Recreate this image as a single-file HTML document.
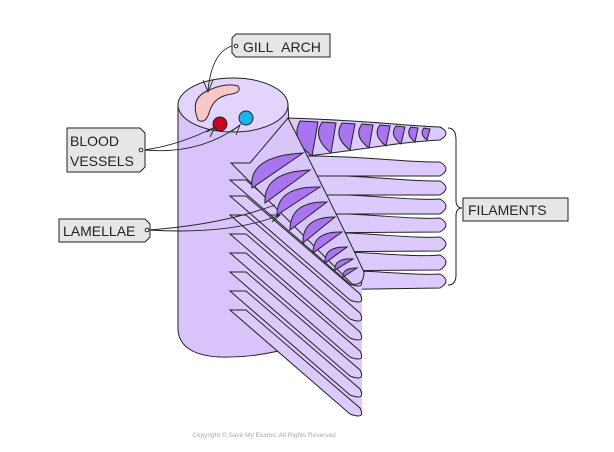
<!DOCTYPE html>
<html><head><style>
body{margin:0;background:#fff;}
.lbl{font-family:"Liberation Sans",sans-serif;font-size:14px;fill:#222;}
</style></head><body>
<svg width="614" height="447" viewBox="0 0 614 447" xmlns="http://www.w3.org/2000/svg">
<g stroke="#222" stroke-width="1" fill="#dcc8fb">
<path d="M178,105 L178,330 Q180,355 220,357 Q260,358 300,345 L288,105 Z" fill="#d8c4fb"/>
<g fill="#dccafc">
<path d="M288,270 C360,268 410,276 440,274 Q452,281 440,288 L300,290 Z"/>
<path d="M288,251 C360,250 410,258 440,255 Q452,262 440,270 L300,271 Z"/>
<path d="M288,232 C360,231 410,239 440,237 Q452,244 440,251 L300,252 Z"/>
<path d="M288,213 C360,212 410,220 440,218 Q452,225 440,232 L300,233 Z"/>
<path d="M288,194 C360,193 410,201 440,199 Q452,206 440,214 L300,214 Z"/>
<path d="M288,175 C360,174 410,182 440,181 Q452,188 440,195 L300,195 Z"/>
<path d="M288,156 C360,155 410,163 440,162 Q452,169 440,176 L300,176 Z"/>
<path d="M288,118 C360,120 410,126 440,127 Q452,133 440,140 C400,142 360,150 300,157 Z"/>
</g>
<g fill="#a974f0">
<path d="M300,121 Q290,140 312,156 L318,122 Z"/>
<path d="M322,122 Q312,138 331,153 L336,123 Z"/>
<path d="M342,123 Q333,137 350,150 L355,124 Z"/>
<path d="M362,124 Q353,136 369,148 L373,125 Z"/>
<path d="M380,125 Q372,135 386,146 L390,126 Z"/>
<path d="M396,126 Q389,135 401,144 L405,127 Z"/>
<path d="M411,127 Q405,134 415,142 L418,128 Z"/>
<path d="M424,128 Q419,134 427,140 L430,129 Z"/>
</g>
<path d="M240,185 L240,318 L352,416 L362,410 L362,280 Z" fill="#dccafc" stroke="none"/>
<g fill="#dccafc">
<path d="M246,310 L230,310 L350,414 Q366,420 360,408 Z"/>
<path d="M246,291 L230,291 L350,395 Q366,401 360,389 Z"/>
<path d="M246,272 L230,272 L350,376 Q366,382 360,370 Z"/>
<path d="M246,253 L230,253 L350,357 Q366,363 360,351 Z"/>
<path d="M246,234 L230,234 L350,338 Q366,344 360,332 Z"/>
<path d="M246,215 L230,215 L350,319 Q366,325 360,313 Z"/>
<path d="M246,196 L230,196 L350,300 Q366,306 360,294 Z"/>
<path d="M246,180 L230,180 L350,284 Q366,290 360,278 Z"/>
</g>
<path d="M231,163 L250,163 L288,118 Q330,200 364,272 Q364,286 352,284 Z" fill="#d8c6fb"/>
<g fill="#a974f0">
<path d="M252,188 Q248,156 303,153 Z"/>
<path d="M265,203 Q263,172 310,170 Z"/>
<path d="M277,215 Q277,186 320,187 Z"/>
<path d="M290,230 Q290,201 327,202 Z"/>
<path d="M303,243 Q302,217 335,217 Z"/>
<path d="M313,253 Q313,231 342,232 Z"/>
<path d="M325,263 Q324,246 347,247 Z"/>
<path d="M335,270 Q334,258 353,259 Z"/>
<path d="M343,277 Q342,268 357,268 Z"/>
</g>
<ellipse cx="233" cy="105" rx="55" ry="27" fill="#e2d4fc"/>
<path d="M198,120 Q190,100 205,92 Q225,82 238,86 Q242,92 232,94 Q215,96 210,110 Q206,125 198,120 Z" fill="#f8c8c8"/>
<circle cx="220" cy="124" r="7" fill="#cc0022"/>
<circle cx="246" cy="118" r="7" fill="#19b4ee"/>
</g>
<path d="M448,128 Q456,128 456,140 L456,200 Q456,208 462,208 Q456,208 456,216 L456,275 Q456,285 448,285" fill="none" stroke="#222"/>
<g fill="none" stroke="#222" stroke-width="0.9">
<path d="M232,46 Q212,52 208,90"/>
<path d="M203,80 L208,92 L213,80"/>
<path d="M144,150 Q180,145 215,127"/>
<path d="M207,132 L215,127 L210,137"/>
<path d="M144,150 Q200,155 240,125"/>
<path d="M232,131 L240,125 L236,135"/>
<path d="M148,230 Q220,225 275,205"/>
<path d="M148,230 Q230,235 280,215"/>
<path d="M270,215 L280,215 L272,222"/>
</g>
<g stroke="#222" fill="#e6e6e6">
<path d="M232,38 L236,34 L330,34 L330,57 L236,57 L232,53 Z"/>
<path d="M67,128 L140,128 L145,133 L145,167 L140,172 L67,172 Z"/>
<path d="M59,219 L145,219 L150,224 L150,237 L145,242 L59,242 Z"/>
<path d="M463,198 L568,198 L568,221 L463,221 Z"/>
</g>
<g fill="#fff" stroke="#222"><circle cx="236" cy="46" r="1.8"/><circle cx="141" cy="150" r="1.8"/><circle cx="147" cy="230" r="1.8"/></g>
<text class="lbl" x="243" y="52">GILL&#160;&#160;ARCH</text>
<text class="lbl" x="70" y="146">BLOOD</text>
<text class="lbl" x="70" y="166">VESSELS</text>
<text class="lbl" x="63" y="236">LAMELLAE</text>
<text class="lbl" x="468" y="215">FILAMENTS</text>
<text x="264" y="437" font-family="Liberation Sans,sans-serif" font-size="6.5" fill="#aaa" text-anchor="middle">Copyright © Save My Exams. All Rights Reserved</text>
</svg>
</body></html>
